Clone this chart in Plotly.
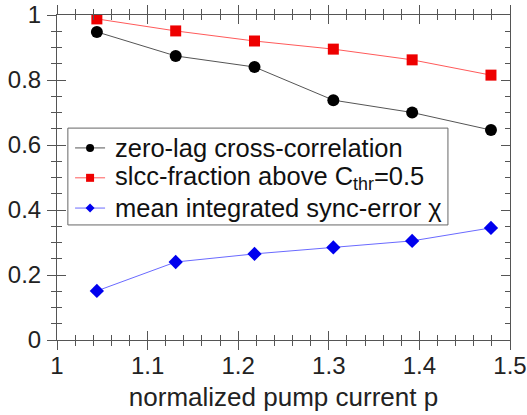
import plotly.graph_objects as go

p_values = [1.044, 1.131, 1.218, 1.305, 1.392, 1.479]
zero_lag = [0.948, 0.874, 0.840, 0.738, 0.700, 0.646]
slcc_fraction = [0.988, 0.951, 0.920, 0.895, 0.862, 0.815]
sync_error = [0.151, 0.240, 0.265, 0.285, 0.305, 0.345]

names = ["zero-lag cross-correlation",
         "slcc-fraction above C<sub>thr</sub>=0.5",
         "mean integrated sync-error χ"]

FONT = "Liberation Sans, Arial, sans-serif"

styles = [
    dict(line="#555555", sym="circle", size=12, col="black"),
    dict(line="#ff5a5a", sym="square", size=11, col="#ee0000"),
    dict(line="#6a6aff", sym="diamond", size=11, col="#0000ee"),
]
series = [zero_lag, slcc_fraction, sync_error]

fig = go.Figure()
for name, ys, st in zip(names, series, styles):
    fig.add_trace(go.Scatter(x=p_values, y=ys, mode="lines+markers", name=name, showlegend=False,
                             line=dict(color=st["line"], width=1),
                             marker=dict(symbol=st["sym"], size=st["size"], color=st["col"])))
# dummy trace for secondary axes (cross ticks)
fig.add_trace(go.Scatter(x=[None], y=[None], xaxis="x2", yaxis="y2", showlegend=False))

axcol = "#555555"
common = dict(showgrid=False, zeroline=False, linecolor=axcol, linewidth=1,
              tickcolor=axcol, automargin=False)

# ---- legend box drawn in paper coordinates (plot area = [0,1]x[0,1]) ----
box_x0, box_x1 = 0.024, 0.863
box_y0, box_y1 = 0.354, 0.652
row_y = [0.591, 0.499, 0.406]
sym_x = 0.073
text_x = 0.124

shapes = [dict(type="rect", xref="paper", yref="paper", x0=box_x0, x1=box_x1,
               y0=box_y0, y1=box_y1, line=dict(color="#666666", width=1),
               fillcolor="white", layer="above")]
annotations = []
for name, st, yy in zip(names, styles, row_y):
    shapes.append(dict(type="line", xref="paper", yref="paper", xsizemode="pixel",
                       xanchor=sym_x, x0=-15, x1=15, y0=yy, y1=yy,
                       line=dict(color=st["line"], width=1), layer="above"))
    if st["sym"] == "circle":
        shapes.append(dict(type="circle", xref="paper", yref="paper",
                           xsizemode="pixel", ysizemode="pixel", xanchor=sym_x, yanchor=yy,
                           x0=-4, x1=4, y0=-4, y1=4, fillcolor=st["col"],
                           line=dict(width=0), layer="above"))
    elif st["sym"] == "square":
        shapes.append(dict(type="rect", xref="paper", yref="paper",
                           xsizemode="pixel", ysizemode="pixel", xanchor=sym_x, yanchor=yy,
                           x0=-4, x1=4, y0=-4, y1=4, fillcolor=st["col"],
                           line=dict(width=0), layer="above"))
    else:
        shapes.append(dict(type="path", xref="paper", yref="paper",
                           xsizemode="pixel", ysizemode="pixel", xanchor=sym_x, yanchor=yy,
                           path="M -4.5 0 L 0 4.5 L 4.5 0 L 0 -4.5 Z", fillcolor=st["col"],
                           line=dict(width=0), layer="above"))
    annotations.append(dict(xref="paper", yref="paper", x=text_x, y=yy, text=name,
                            xanchor="left", yanchor="middle", showarrow=False,
                            font=dict(size=25.5, color="#111111", family=FONT)))

fig.update_layout(
    width=527, height=415,
    margin=dict(l=57, r=17, t=15, b=75),
    plot_bgcolor="white", paper_bgcolor="white",
    font=dict(family=FONT, size=24, color="#222222"),
    xaxis=dict(range=[1, 1.5], dtick=0.1, tick0=1, showline=True, mirror="ticks",
               ticks="inside", ticklen=9, tickwidth=1,
               minor=dict(ticks="inside", dtick=0.02, ticklen=5, tickcolor=axcol),
               title=dict(text="normalized pump current p", font=dict(size=26), standoff=10),
               tickfont=dict(size=24), ticklabelstandoff=4, ticklabeloverflow="allow",
               **common),
    xaxis2=dict(range=[1, 1.5], dtick=0.1, tick0=1, overlaying="x", side="bottom",
                showline=False, mirror="ticks", ticks="outside", ticklen=9, tickwidth=1,
                minor=dict(ticks="outside", dtick=0.02, ticklen=5, tickcolor=axcol),
                showticklabels=False, **common),
    yaxis=dict(range=[0, 1], dtick=0.2, tick0=0, showline=True, mirror="ticks",
               ticks="inside", ticklen=9, tickwidth=1,
               minor=dict(ticks="inside", dtick=0.05, ticklen=5, tickcolor=axcol),
               tickfont=dict(size=24), ticklabelstandoff=10, ticklabeloverflow="allow",
               **common),
    yaxis2=dict(range=[0, 1], dtick=0.2, tick0=0, overlaying="y", side="left",
                showline=False, ticks="outside", ticklen=9, tickwidth=1,
                minor=dict(ticks="outside", dtick=0.05, ticklen=5, tickcolor=axcol),
                showticklabels=False, **common),
    shapes=shapes,
    annotations=annotations,
    showlegend=False,
)

fig.write_html("out.html", config={"displayModeBar": False},
               post_script="document.body.style.margin='0px';")
